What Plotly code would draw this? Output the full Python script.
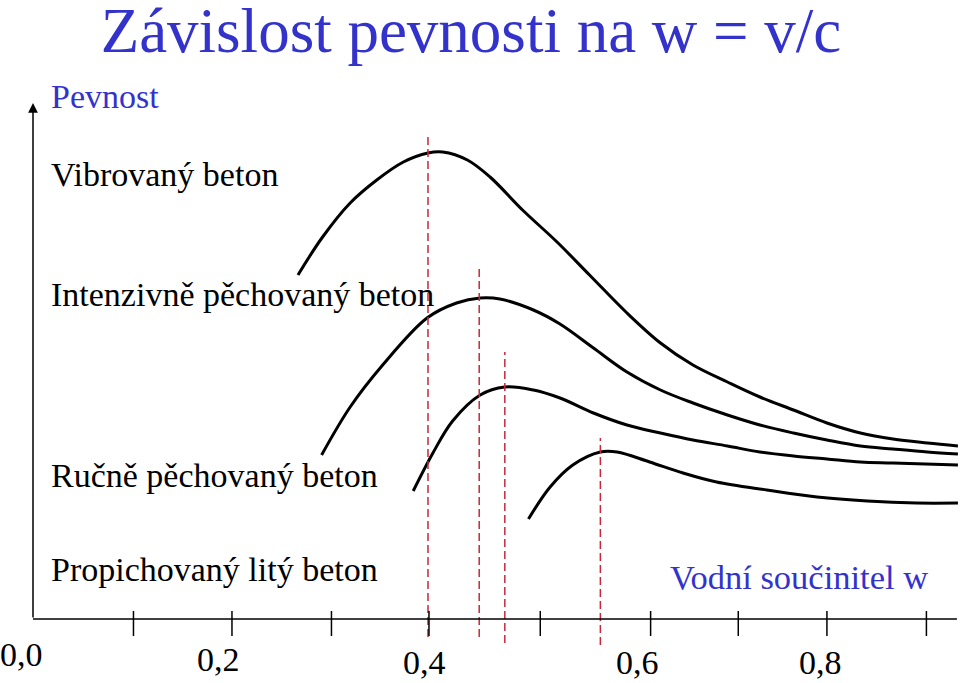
import plotly.graph_objects as go

# water/cement ratio w on x, relative strength (arbitrary units) on y
vibro_w = [0.269, 0.294, 0.322, 0.349, 0.376, 0.401, 0.416, 0.441, 0.464, 0.497, 0.532,
           0.565, 0.603, 0.637, 0.670, 0.705, 0.738, 0.772, 0.806, 0.840, 0.873, 0.908, 0.939]
vibro_s = [3.44, 3.82, 4.16, 4.39, 4.57, 4.66, 4.67, 4.59, 4.42, 4.09, 3.77,
           3.44, 3.06, 2.76, 2.54, 2.37, 2.22, 2.09, 1.96, 1.86, 1.80, 1.76, 1.73]

intenz_w = [0.293, 0.322, 0.355, 0.400, 0.430, 0.454, 0.474, 0.508, 0.535, 0.569, 0.603,
            0.637, 0.670, 0.705, 0.738, 0.772, 0.806, 0.840, 0.873, 0.908, 0.939]
intenz_s = [1.64, 2.12, 2.54, 3.01, 3.16, 3.21, 3.20, 3.09, 2.95, 2.71, 2.47,
            2.29, 2.16, 2.04, 1.94, 1.86, 1.79, 1.73, 1.70, 1.67, 1.65]

rucne_w = [0.386, 0.406, 0.426, 0.454, 0.479, 0.508, 0.535, 0.569, 0.603, 0.637,
           0.670, 0.705, 0.738, 0.772, 0.806, 0.840, 0.873, 0.939]
rucne_s = [1.28, 1.66, 1.98, 2.24, 2.32, 2.29, 2.21, 2.06, 1.94, 1.86,
           1.79, 1.73, 1.67, 1.63, 1.60, 1.57, 1.56, 1.54]

lity_w = [0.503, 0.525, 0.548, 0.576, 0.593, 0.626, 0.660, 0.694, 0.745, 0.796, 0.847, 0.897, 0.939]
lity_s = [1.00, 1.32, 1.54, 1.67, 1.67, 1.57, 1.46, 1.37, 1.29, 1.22, 1.18, 1.16, 1.16]

# optimum w for each curve (red dashed lines)
opt_w = [0.401, 0.453, 0.479, 0.576]
opt_top = [4.82, 3.52, 2.67, 1.81]
opt_bottom = [-0.18, -0.18, -0.24, -0.26]

tick_w = [0.102, 0.202, 0.303, 0.402, 0.515, 0.627, 0.716, 0.806, 0.907]
tick_label_w = [-0.012, 0.188, 0.397, 0.614, 0.799]
tick_label_s = [-0.35, -0.40, -0.43, -0.43, -0.43]
tick_labels = ["0,0", "0,2", "0,4", "0,6", "0,8"]

axis_end_w = 0.938
axis_top_s = 5.16

curve_labels = ["Vibrovaný beton", "Intenzivně pěchovaný beton",
                "Ručně pěchovaný beton", "Propichovaný litý beton"]
curve_label_s = [4.45, 3.25, 1.44, 0.50]

BLUE = "#3333CC"
RED = "#C8283C"
FONT = "Liberation Serif, Times New Roman, Times, serif"

fig = go.Figure()

for xs, ys in [(vibro_w, vibro_s), (intenz_w, intenz_s), (rucne_w, rucne_s), (lity_w, lity_s)]:
    fig.add_trace(go.Scatter(x=xs, y=ys, mode="lines",
                             line=dict(color="black", width=3, shape="spline", smoothing=1.0),
                             hoverinfo="skip"))

for w, top, bottom in zip(opt_w, opt_top, opt_bottom):
    fig.add_trace(go.Scatter(x=[w, w], y=[bottom, top], mode="lines",
                             line=dict(color=RED, width=1.5, dash="8px,4px"), hoverinfo="skip"))

# x axis line and tick marks
fig.add_trace(go.Scatter(x=[0, axis_end_w], y=[0, 0], mode="lines",
                         line=dict(color="black", width=1.5), hoverinfo="skip"))
tick_x, tick_y = [], []
for w in tick_w:
    tick_x += [w, w, None]
    tick_y += [0.08, -0.17, None]
fig.add_trace(go.Scatter(x=tick_x, y=tick_y, mode="lines",
                         line=dict(color="black", width=1.5), hoverinfo="skip"))

# y axis with arrow
fig.add_annotation(x=0, y=axis_top_s, ax=0, ay=0, axref="x", ayref="y", text="",
                   showarrow=True, arrowhead=2, arrowsize=1.3, arrowwidth=1.5, arrowcolor="black",
                   standoff=0)

for txt, w, s in zip(tick_labels, tick_label_w, tick_label_s):
    fig.add_annotation(x=w, y=s, text=txt, showarrow=False, xanchor="center", yanchor="middle",
                       font=dict(family=FONT, size=34, color="black"))

for txt, s in zip(curve_labels, curve_label_s):
    fig.add_annotation(x=0.0162, y=s, text=txt, showarrow=False, xanchor="left", yanchor="middle",
                       font=dict(family=FONT, size=34, color="black"))

fig.add_annotation(x=0.0162, y=5.23, text="Pevnost", showarrow=False, xanchor="left", yanchor="middle",
                   font=dict(family=FONT, size=34, color=BLUE))
fig.add_annotation(x=0.645, y=0.42, text="Vodní součinitel w", showarrow=False, xanchor="left",
                   yanchor="middle", font=dict(family=FONT, size=34.5, color=BLUE))

fig.update_layout(
    title=dict(text="Závislost pevnosti na w = v/c", x=471 / 960, xanchor="center",
               y=1 - 30 / 683, yanchor="middle", yref="container",
               font=dict(family=FONT, size=63, color=BLUE)),
    width=960,
    height=683,
    margin=dict(l=0, r=0, t=0, b=0),
    paper_bgcolor="white",
    plot_bgcolor="white",
    showlegend=False,
    xaxis=dict(range=[-0.0335, 0.9411], visible=False),
    yaxis=dict(range=[-0.64, 6.19], visible=False),
)

fig.write_html("out.html", config={"displayModeBar": False},
               post_script="document.body.style.margin = '0';")
